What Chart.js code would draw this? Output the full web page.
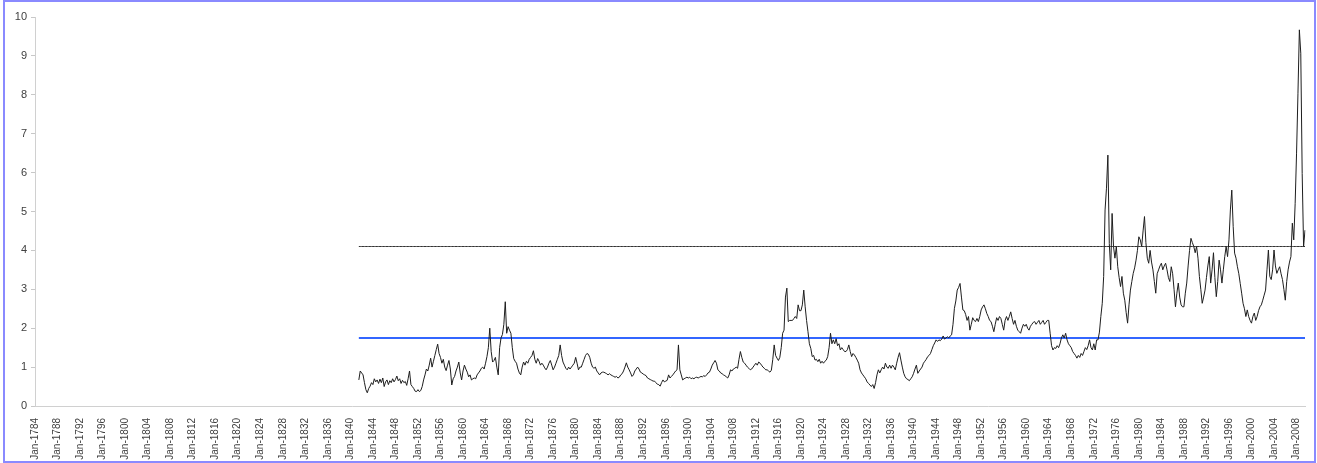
<!DOCTYPE html>
<html>
<head>
<meta charset="utf-8">
<script src="https://cdn.jsdelivr.net/npm/chart.js@4.4.1/dist/chart.umd.min.js"></script>
<style>
    html, body { margin: 0; padding: 0; background: #fff; }
    #wrap { position: relative; width: 1317px; height: 463px; }
    #frame { position: absolute; left: 3px; top: 0; width: 1309px; height: 459px; border: 2px solid #8a8aff; pointer-events: none; }
</style>
</head>
<body>
<div id="wrap">
    <canvas id="chart1"></canvas>
    <div id="frame"></div>
</div>
<script>
// quarterly categories, Jan-1784 .. Jul-2009
var monthNames = ['Jan', 'Apr', 'Jul', 'Oct'];
var firstYear = 1784;
var lastYear = 2009;
var lastQuarter = 2; // Jul
var labelEvery = 16; // one label every 4 years

// series starts Jul-1841
var seriesStart = 'Jul-1841';
var priceByYear = [
    [0.67, 0.9],                  // 1841 (Jul, Oct)
    [0.85, 0.8, 0.6, 0.42],       // 1842
    [0.34, 0.45, 0.51, 0.6],
    [0.55, 0.7, 0.62, 0.67],
    [0.58, 0.69, 0.6, 0.72],
    [0.5, 0.62, 0.67, 0.55],
    [0.65, 0.6, 0.7, 0.62],
    [0.68, 0.77, 0.65, 0.7],
    [0.58, 0.66, 0.6, 0.63],
    [0.53, 0.7, 0.9, 0.55],       // 1850
    [0.5, 0.45, 0.38, 0.37],
    [0.42, 0.37, 0.4, 0.5],
    [0.67, 0.8, 0.95, 0.9],
    [1.05, 1.23, 1.0, 1.15],
    [1.3, 1.45, 1.59, 1.35],
    [1.25, 1.1, 1.2, 1.0],
    [0.91, 1.05, 1.17, 0.95],
    [0.54, 0.7, 0.76, 0.9],
    [1.0, 1.13, 0.85, 0.67],
    [0.9, 1.05, 0.95, 0.87],      // 1860
    [0.75, 0.8, 0.67, 0.7],
    [0.72, 0.7, 0.8, 0.85],
    [0.9, 0.97, 1.0, 0.95],
    [1.1, 1.27, 1.5, 2.0],
    [1.4, 1.13, 1.17, 1.25],
    [1.0, 0.8, 1.5, 1.75],
    [1.84, 2.1, 2.68, 1.87],
    [2.04, 1.95, 1.87, 1.5],
    [1.22, 1.15, 1.1, 0.95],
    [0.85, 0.8, 1.0, 1.13],       // 1870
    [1.05, 1.15, 1.1, 1.2],
    [1.25, 1.3, 1.42, 1.2],
    [1.1, 1.22, 1.15, 1.05],
    [1.1, 1.05, 0.98, 0.93],
    [1.0, 1.1, 1.17, 1.05],
    [0.93, 1.0, 1.1, 1.2],
    [1.3, 1.57, 1.3, 1.13],
    [1.05, 0.97, 0.93, 1.0],
    [0.95, 1.0, 1.05, 1.1],
    [1.25, 1.1, 0.93, 1.0],       // 1880
    [1.0, 1.1, 1.2, 1.3],
    [1.35, 1.33, 1.25, 1.1],
    [1.0, 0.97, 1.0, 0.9],
    [0.85, 0.8, 0.85, 0.87],
    [0.87, 0.85, 0.83, 0.8],
    [0.83, 0.8, 0.78, 0.76],
    [0.74, 0.76, 0.72, 0.74],
    [0.8, 0.83, 0.9, 1.0],
    [1.11, 1.0, 0.93, 0.85],
    [0.76, 0.8, 0.9, 0.95],       // 1890
    [1.0, 0.95, 0.87, 0.85],
    [0.82, 0.8, 0.78, 0.72],
    [0.7, 0.68, 0.66, 0.64],
    [0.64, 0.6, 0.56, 0.55],
    [0.51, 0.6, 0.67, 0.62],
    [0.64, 0.66, 0.8, 0.72],
    [0.76, 0.8, 0.85, 0.9],
    [0.93, 1.57, 0.93, 0.8],
    [0.67, 0.7, 0.72, 0.74],
    [0.72, 0.74, 0.7, 0.72],      // 1900
    [0.7, 0.73, 0.74, 0.72],
    [0.74, 0.76, 0.75, 0.78],
    [0.76, 0.8, 0.85, 0.87],
    [0.95, 1.05, 1.11, 1.17],
    [1.1, 0.93, 0.9, 0.85],
    [0.83, 0.8, 0.78, 0.75],
    [0.72, 0.8, 0.93, 0.9],
    [0.95, 0.97, 1.0, 0.97],
    [1.2, 1.4, 1.25, 1.13],
    [1.1, 1.05, 1.0, 0.97],       // 1910
    [0.93, 0.95, 1.0, 1.05],
    [1.1, 1.05, 1.13, 1.1],
    [1.05, 1.0, 0.97, 0.93],
    [0.93, 0.9, 0.87, 0.92],
    [1.2, 1.57, 1.3, 1.23],
    [1.17, 1.25, 1.5, 1.87],
    [1.95, 2.8, 3.03, 2.17],
    [2.2, 2.2, 2.2, 2.25],
    [2.3, 2.25, 2.6, 2.45],
    [2.45, 2.6, 2.98, 2.55],      // 1920
    [2.2, 1.91, 1.6, 1.48],
    [1.27, 1.3, 1.18, 1.2],
    [1.14, 1.2, 1.1, 1.15],
    [1.1, 1.15, 1.18, 1.27],
    [1.5, 1.87, 1.6, 1.7],
    [1.6, 1.73, 1.55, 1.6],
    [1.44, 1.5, 1.45, 1.4],
    [1.4, 1.45, 1.57, 1.4],
    [1.27, 1.35, 1.31, 1.25],
    [1.18, 1.1, 0.93, 0.85],      // 1930
    [0.8, 0.75, 0.7, 0.62],
    [0.58, 0.54, 0.5, 0.55],
    [0.45, 0.6, 0.8, 0.93],
    [0.85, 0.93, 1.0, 0.95],
    [1.1, 1.0, 0.97, 1.05],
    [0.97, 1.05, 1.0, 0.93],
    [1.1, 1.25, 1.37, 1.18],
    [1.0, 0.84, 0.75, 0.7],
    [0.68, 0.65, 0.7, 0.75],
    [0.84, 0.95, 1.05, 0.84],     // 1940
    [0.9, 0.95, 1.0, 1.1],
    [1.15, 1.2, 1.27, 1.3],
    [1.35, 1.45, 1.55, 1.62],
    [1.7, 1.66, 1.7, 1.68],
    [1.72, 1.8, 1.72, 1.75],
    [1.78, 1.75, 1.8, 1.83],
    [2.1, 2.51, 2.7, 2.98],
    [3.05, 3.15, 2.8, 2.47],
    [2.45, 2.35, 2.2, 2.3],
    [1.95, 2.1, 2.27, 2.2],       // 1950
    [2.17, 2.25, 2.17, 2.3],
    [2.47, 2.55, 2.6, 2.5],
    [2.38, 2.3, 2.2, 2.17],
    [2.05, 1.91, 2.1, 2.27],
    [2.2, 2.3, 2.25, 2.1],
    [1.95, 2.2, 2.3, 2.2],
    [2.3, 2.42, 2.25, 2.1],
    [2.2, 2.05, 1.95, 1.91],
    [1.87, 2.0, 2.1, 2.05],
    [2.1, 2.0, 1.95, 2.05],       // 1960
    [2.1, 2.15, 2.17, 2.1],
    [2.15, 2.2, 2.1, 2.15],
    [2.2, 2.1, 2.15, 2.2],
    [2.2, 1.87, 1.55, 1.44],
    [1.5, 1.48, 1.55, 1.5],
    [1.6, 1.75, 1.83, 1.75],
    [1.87, 1.7, 1.6, 1.55],
    [1.5, 1.4, 1.35, 1.3],
    [1.23, 1.3, 1.25, 1.35],
    [1.3, 1.4, 1.5, 1.45],        // 1970
    [1.55, 1.7, 1.5, 1.44],
    [1.6, 1.44, 1.7, 1.7],
    [1.9, 2.3, 2.64, 3.33],
    [5.04, 5.6, 6.45, 4.18],
    [3.5, 4.95, 4.1, 3.8],
    [4.1, 3.58, 3.3, 3.07],
    [3.33, 2.9, 2.72, 2.4],
    [2.13, 2.6, 2.98, 3.2],
    [3.41, 3.55, 3.75, 4.0],
    [4.35, 4.27, 4.1, 4.5],       // 1980
    [4.87, 4.2, 3.8, 3.67],
    [4.0, 3.7, 3.5, 3.2],
    [2.9, 3.4, 3.5, 3.6],
    [3.67, 3.5, 3.6, 3.67],
    [3.5, 3.3, 3.2, 3.58],
    [3.4, 3.0, 2.55, 2.9],
    [3.16, 2.8, 2.6, 2.55],
    [2.55, 2.9, 3.16, 3.6],
    [4.0, 4.31, 4.2, 4.1],
    [3.94, 4.1, 3.8, 3.33],       // 1990
    [3.0, 2.64, 2.8, 2.98],
    [3.3, 3.6, 3.84, 3.16],
    [3.5, 3.94, 3.3, 2.81],
    [3.2, 3.75, 3.5, 3.16],
    [3.5, 3.84, 4.1, 3.84],
    [4.27, 5.04, 5.55, 4.61],
    [3.93, 3.8, 3.58, 3.4],
    [3.15, 2.9, 2.64, 2.5],
    [2.3, 2.47, 2.3, 2.2],
    [2.13, 2.3, 2.39, 2.2],       // 2000
    [2.3, 2.45, 2.55, 2.6],
    [2.72, 2.85, 2.98, 3.5],
    [4.01, 3.33, 3.25, 3.5],
    [4.01, 3.6, 3.41, 3.5],
    [3.58, 3.4, 3.25, 3.0],
    [2.72, 3.2, 3.5, 3.7],
    [3.84, 4.7, 4.27, 5.2],
    [6.5, 8.04, 9.67, 9.07],
    [5.98, 4.1, 4.52]             // 2009 (Jan, Apr, Jul)
];

// two flat reference levels
var upperLevel = 4.1;
var lowerLevel = 1.75;

// y axis
var yMin = 0;
var yMax = 10;
var yStep = 1;

var categories = [];
for (var y = firstYear; y <= lastYear; y++) {
    for (var q = 0; q < 4; q++) {
        if (y === lastYear && q > lastQuarter) break;
        categories.push(monthNames[q] + '-' + y);
    }
}

var startIdx = categories.indexOf(seriesStart);
var priceData = [];
var upperData = [];
var lowerData = [];
for (var i = 0; i < startIdx; i++) {
    priceData.push(null);
    upperData.push(null);
    lowerData.push(null);
}
priceByYear.forEach(function (row) {
    row.forEach(function (v) {
        priceData.push(v);
        upperData.push(upperLevel);
        lowerData.push(lowerLevel);
    });
});

var ctx1 = document.getElementById('chart1');
var myChart = new Chart(ctx1, {
    type: 'line',
    data: {
        labels: categories,
        datasets: [{
            data: priceData,
            borderColor: '#1e1e1e',
            borderWidth: 1,
            pointRadius: 0,
            tension: 0
        }, {
            data: upperData,
            borderColor: '#333333',
            borderWidth: 1,
            pointRadius: 0
        }, {
            data: lowerData,
            borderColor: 'rgb(51, 102, 255)',
            borderWidth: 2,
            pointRadius: 0
        }]
    },
    options: {
        responsive: true,
        maintainAspectRatio: false,
        animation: false,
        layout: {
            padding: { left: 0, right: 12, top: 17, bottom: 0 }
        },
        plugins: {
            legend: { display: false },
            tooltip: { enabled: false }
        },
        scales: {
            x: {
                offset: false,
                grid: { display: false },
                border: { display: true, color: '#d0d0d0', width: 1 },
                ticks: {
                    autoSkip: false,
                    minRotation: 90,
                    maxRotation: 90,
                    padding: 4,
                    color: '#404040',
                    font: { family: 'Liberation Sans, Arial, sans-serif', size: 10 },
                    callback: function (value, index) {
                        return index % labelEvery === 0 ? categories[index] : null;
                    }
                },
                afterFit: function (scale) {
                    scale.height = 57;
                }
            },
            y: {
                min: yMin,
                max: yMax,
                grid: {
                    display: true,
                    drawOnChartArea: false,
                    tickLength: 4,
                    color: '#c8c8c8'
                },
                border: { display: true, color: '#d0d0d0', width: 1 },
                ticks: {
                    stepSize: yStep,
                    padding: 4,
                    color: '#404040',
                    font: { family: 'Liberation Sans, Arial, sans-serif', size: 11 }
                },
                afterFit: function (scale) {
                    scale.width = 35;
                }
            }
        }
    }
});
</script>
</body>
</html>
